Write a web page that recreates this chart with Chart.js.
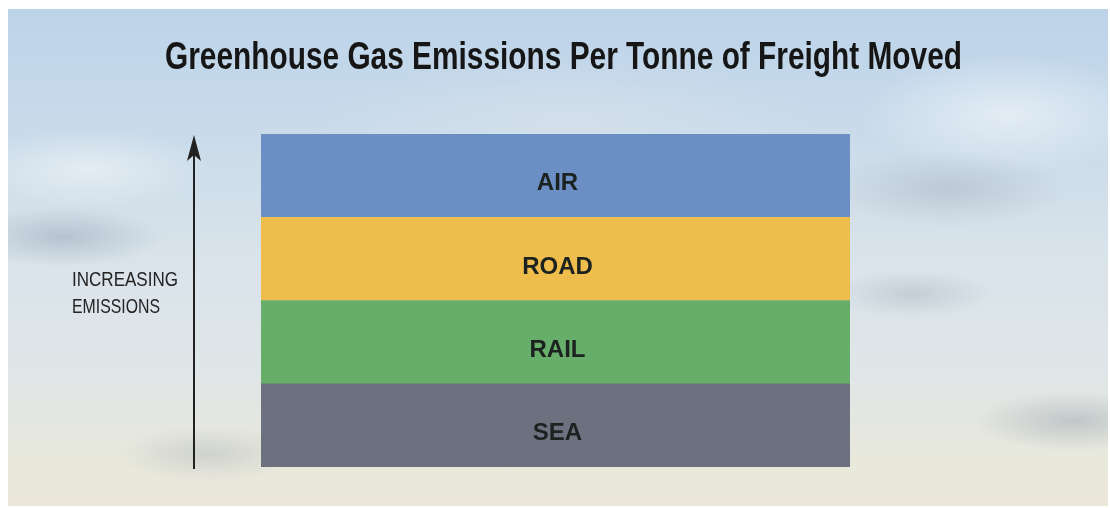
<!DOCTYPE html>
<html>
<head>
<meta charset="utf-8">
<script src="https://cdn.jsdelivr.net/npm/chart.js@4.4.1/dist/chart.umd.min.js"></script>
<style>
    html, body { margin: 0; padding: 0; background: #ffffff; }
    #quadro {
        position: relative;
        width: 1110px;
        height: 508px;
        overflow: hidden;
    }
    #ceu {
        position: absolute;
        left: 8px; top: 9px; right: 2px; bottom: 2px;
        background:
            radial-gradient(ellipse 100px 30px at 55px 228px, rgba(150,165,182,0.5), rgba(150,165,182,0) 100%),
            radial-gradient(ellipse 120px 40px at 80px 160px, rgba(255,255,255,0.45), rgba(255,255,255,0) 100%),
            radial-gradient(ellipse 90px 28px at 200px 445px, rgba(160,170,178,0.35), rgba(160,170,178,0) 100%),
            radial-gradient(ellipse 120px 38px at 940px 180px, rgba(160,170,182,0.4), rgba(160,170,182,0) 100%),
            radial-gradient(ellipse 80px 24px at 905px 285px, rgba(155,165,175,0.35), rgba(155,165,175,0) 100%),
            radial-gradient(ellipse 100px 30px at 1065px 412px, rgba(150,160,172,0.45), rgba(150,160,172,0) 100%),
            radial-gradient(ellipse 150px 60px at 1000px 105px, rgba(255,255,255,0.5), rgba(255,255,255,0) 100%),
            radial-gradient(ellipse 260px 60px at 560px 110px, rgba(225,230,235,0.45), rgba(225,230,235,0) 100%),
            linear-gradient(to bottom, #bcd3e9 0%, #c9dbea 25%, #d9e3ea 50%, #dfe6e8 72%, #e8e8dc 90%, #ebe8da 100%);
    }
    canvas { position: absolute; left: 0; top: 0; }
</style>
</head>
<body>
<div id="quadro">
    <div id="ceu"></div>
    <canvas id="grafico" width="1110" height="508"></canvas>
</div>
<script>
// Dados do gráfico (faixas de baixo para cima)
const modos = ['SEA', 'RAIL', 'ROAD', 'AIR'];
const faixas = [1, 1, 1, 1];
const categorias = ['Freight'];
const titulo = 'Greenhouse Gas Emissions Per Tonne of Freight Moved';
const rotuloEixo = ['INCREASING', 'EMISSIONS'];

// Cores das faixas
const cores = ['#6d717f', '#68ae6b', '#efbd4b', '#6b8fc5'];

// Plugin: rótulos dentro das faixas
const pluginRotulos = {
    id: 'rotulos',
    afterDatasetsDraw(chart) {
        const ctx = chart.ctx;
        ctx.save();
        ctx.font = 'bold 24px "Liberation Sans", Arial, sans-serif';
        ctx.fillStyle = '#1c221f';
        ctx.textAlign = 'center';
        ctx.textBaseline = 'middle';
        chart.data.datasets.forEach((ds, i) => {
            const barra = chart.getDatasetMeta(i).data[0];
            const meio = (barra.y + barra.base) / 2;
            ctx.fillText(ds.label, barra.x + 2, meio + 8);
        });
        ctx.restore();
    }
};

// Plugin: título, seta e texto lateral
const pluginDecoracao = {
    id: 'decoracao',
    afterDraw(chart) {
        const ctx = chart.ctx;
        const area = chart.chartArea;
        ctx.save();

        // título em fonte condensada
        ctx.font = 'bold 38px "Liberation Sans Narrow", "Liberation Sans", Arial, sans-serif';
        ctx.fillStyle = '#161616';
        ctx.textBaseline = 'middle';
        ctx.textAlign = 'left';
        const larguraAlvo = 797;
        const larg = ctx.measureText(titulo).width;
        ctx.save();
        ctx.translate(165, 59);
        ctx.scale(larguraAlvo / larg, 1);
        ctx.fillText(titulo, 0, 0);
        ctx.restore();

        // seta vertical
        const xSeta = area.left - 67;
        const topo = area.top + 1;
        ctx.strokeStyle = '#222222';
        ctx.fillStyle = '#222222';
        ctx.lineWidth = 2;
        ctx.beginPath();
        ctx.moveTo(xSeta, area.bottom + 2);
        ctx.lineTo(xSeta, topo + 18);
        ctx.stroke();
        ctx.beginPath();
        ctx.moveTo(xSeta, topo);
        ctx.lineTo(xSeta + 7, topo + 26);
        ctx.lineTo(xSeta, topo + 20);
        ctx.lineTo(xSeta - 7, topo + 26);
        ctx.closePath();
        ctx.fill();

        // texto lateral
        ctx.font = '21px "Liberation Sans Narrow", "Liberation Sans", Arial, sans-serif';
        ctx.fillStyle = '#232323';
        rotuloEixo.forEach((linha, i) => {
            const w = ctx.measureText(linha).width;
            const alvo = i === 0 ? 106 : 88;
            ctx.save();
            ctx.translate(72, 280 + i * 27);
            ctx.scale(alvo / w, 1);
            ctx.fillText(linha, 0, 0);
            ctx.restore();
        });

        ctx.restore();
    }
};

const ctx = document.getElementById('grafico').getContext('2d');
new Chart(ctx, {
    type: 'bar',
    data: {
        labels: categorias,
        datasets: modos.map((modo, i) => ({
            label: modo,
            data: [faixas[i]],
            backgroundColor: cores[i],
            borderWidth: 0,
            barPercentage: 1,
            categoryPercentage: 1
        }))
    },
    options: {
        responsive: false,
        animation: false,
        devicePixelRatio: 1,
        layout: {
            padding: { left: 261, right: 260, top: 134, bottom: 41 }
        },
        scales: {
            x: { stacked: true, display: false },
            y: { stacked: true, display: false, min: 0, max: faixas.reduce((a, b) => a + b, 0) }
        },
        plugins: {
            legend: { display: false },
            tooltip: { enabled: false }
        }
    },
    plugins: [pluginRotulos, pluginDecoracao]
});
</script>
</body>
</html>
